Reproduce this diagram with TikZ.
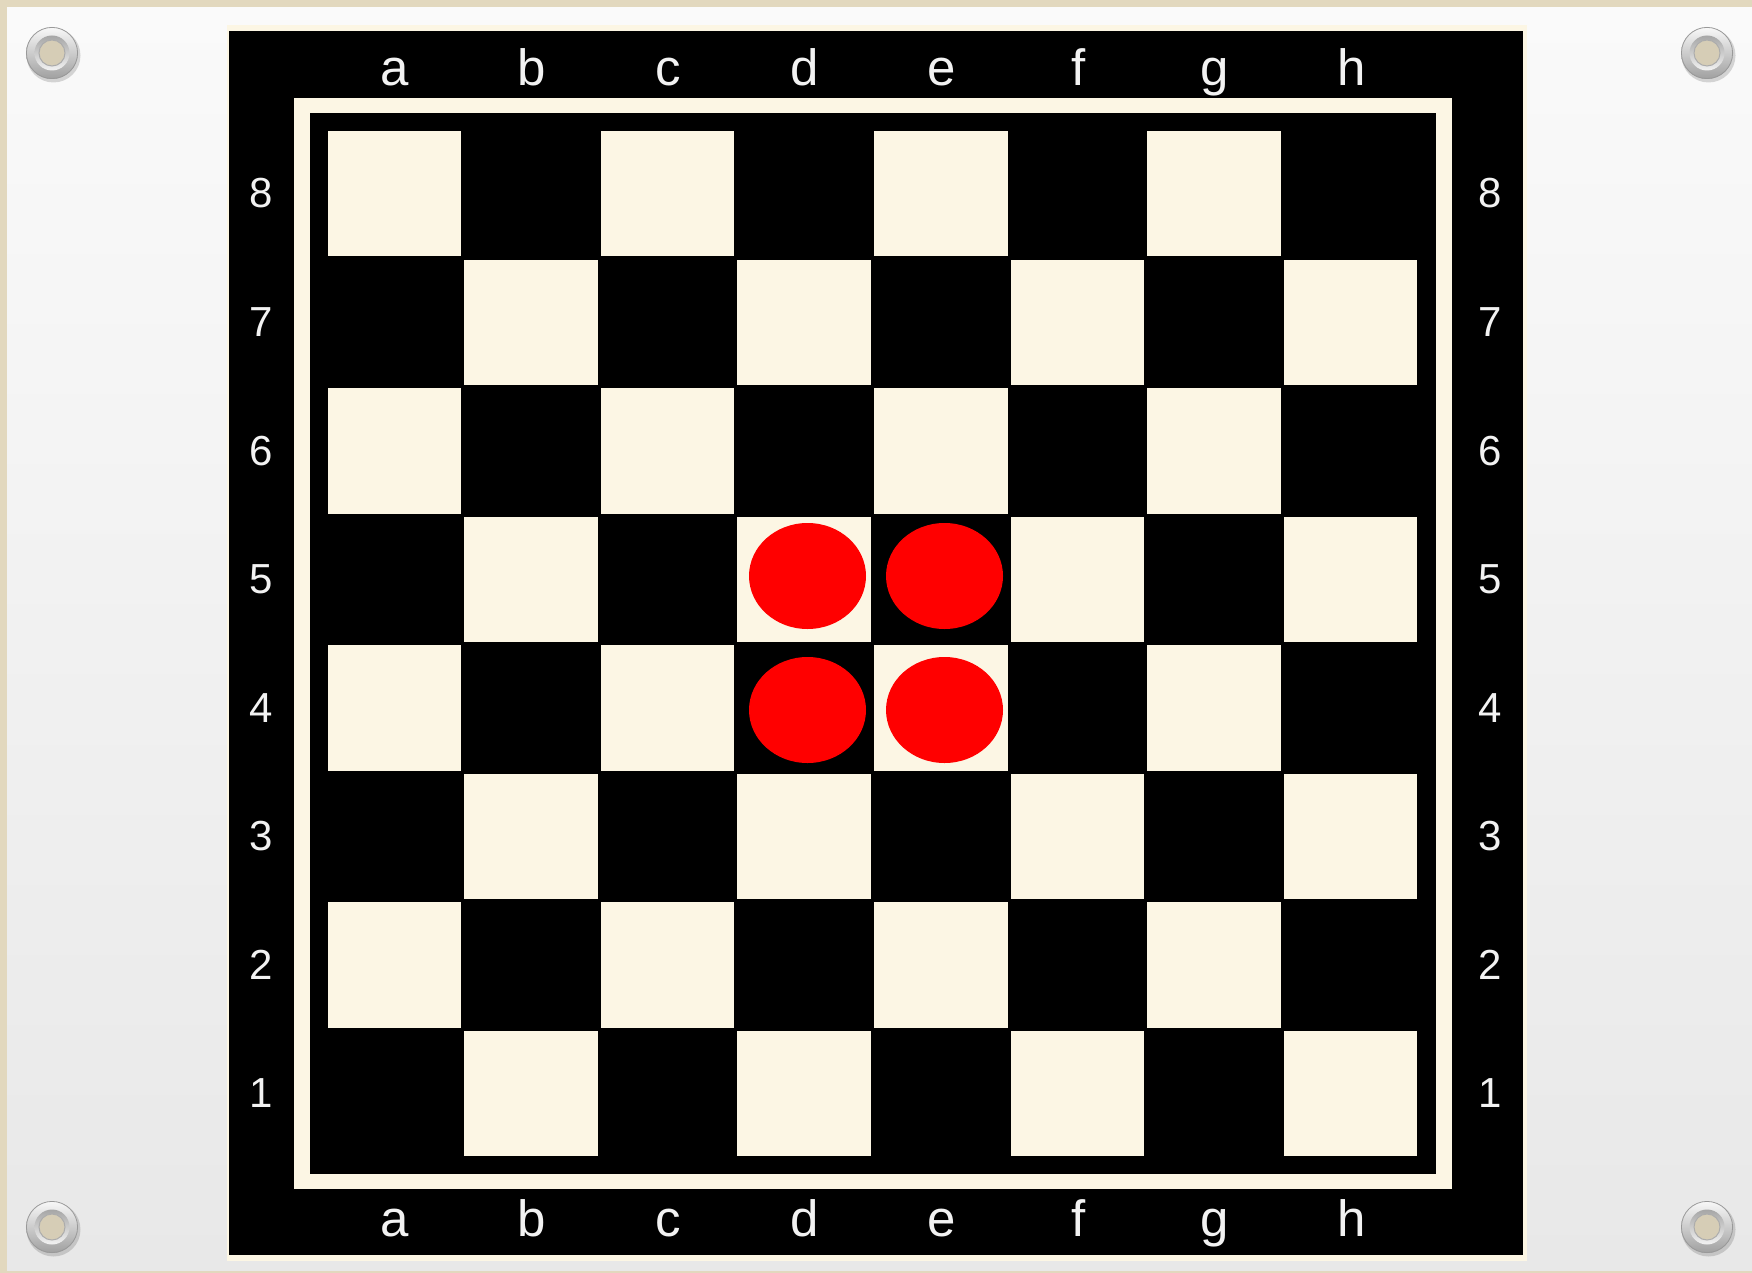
\documentclass[tikz,border=0pt]{standalone}
\usepackage{fontspec}
\setmainfont{Liberation Sans}
\definecolor{cream}{RGB}{252,246,228}
\definecolor{beigeedge}{RGB}{226,216,190}
\definecolor{paneltop}{RGB}{250,250,250}
\definecolor{panelbot}{RGB}{232,232,232}
\definecolor{holebeige}{RGB}{214,205,182}
\definecolor{pieceRed}{RGB}{255,0,0}
\tikzset{
  filelbl/.style={text=white!95!black, inner sep=0pt, anchor=base, font=\fontsize{51}{60}\selectfont},
  ranklbl/.style={text=white!95!black, inner sep=0pt, anchor=base, font=\fontsize{42}{50}\selectfont},
  lightsq/.style={fill=cream},
  piece/.style={fill=pieceRed}
}
\begin{document}
\begin{tikzpicture}[x=1pt,y=-1pt]
\useasboundingbox (0,0) rectangle (1752,1273);
% background
\fill[beigeedge] (0,0) rectangle (1752,1273);
\shade[top color=paneltop, bottom color=panelbot] (7,8) rectangle (1752,1270);
% grommets
\foreach \gx/\gy in {52/53,1707/53,52/1227,1707/1227}{
  \fill[black, opacity=0.15] (\gx+1.5,\gy+2.5) circle (27pt);
  \shade[top color=white!95!gray, bottom color=gray!75] (\gx,\gy) circle (26pt);
  \draw[gray!80, line width=0.8pt] (\gx,\gy) circle (25.6pt);
  \shade[top color=gray!70, bottom color=white!90!gray] (\gx,\gy) circle (17.5pt);
  \fill[holebeige] (\gx,\gy) circle (13pt);
  \draw[gray!65, line width=1pt] (\gx,\gy) circle (13pt);
}
% board
\fill[cream] (227,25) rectangle (1527,1261);
\fill[black] (229,31) rectangle (1523,1255);
\fill[cream] (294,98) rectangle (1452,1189);
\fill[black] (310,113) rectangle (1436,1174);
% squares
\foreach \c in {0,...,7}{
  \foreach \r in {0,...,7}{
    \pgfmathtruncatemacro\s{mod(\c+\r,2)}
    \ifnum\s=0
      \fill[lightsq] ({327.5+\c*136.625},{131+\r*128.5}) rectangle ++(133.6,125.5);
    \fi
  }
}
% file labels
\foreach \l [count=\i from 0] in {a,b,c,d,e,f,g,h}{
  \node[filelbl] (top\l) at ({395+\i*136.625},86) {\l};
  \node[filelbl] (bot\l) at ({395+\i*136.625},1236) {\l};
}
% rank labels
\foreach \n [count=\k from 0] in {8,7,6,5,4,3,2,1}{
  \node[ranklbl] (left\n) at (261,{208+\k*128.5}) {\n};
  \node[ranklbl] (right\n) at (1490,{208+\k*128.5}) {\n};
}
% pieces
\fill[piece] (807.5,576) ellipse [x radius=58.5pt, y radius=53pt];
\fill[piece] (944.5,576) ellipse [x radius=58.5pt, y radius=53pt];
\fill[piece] (807.5,710) ellipse [x radius=58.5pt, y radius=53pt];
\fill[piece] (944.5,710) ellipse [x radius=58.5pt, y radius=53pt];
\end{tikzpicture}
\end{document}
